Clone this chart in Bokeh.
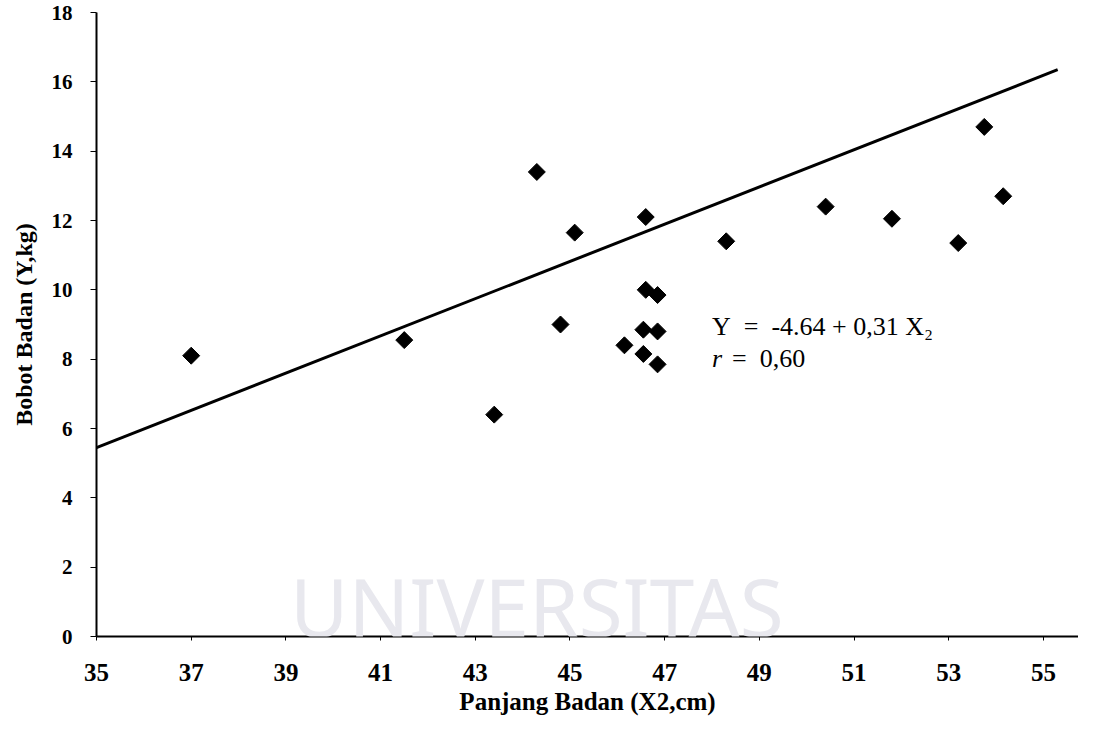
import numpy as np
from bokeh.plotting import figure
from bokeh.models import Range1d, FixedTicker, Label
from bokeh.embed import file_html
from bokeh.resources import INLINE

# ---- data ----
panjang = [37.0, 41.5, 43.4, 44.3, 44.8, 45.1, 46.15, 46.55, 46.55, 46.6,
           46.6, 46.85, 46.85, 46.85, 48.3, 50.4, 51.8, 53.2, 53.75, 54.15]
bobot = [8.1, 8.55, 6.4, 13.4, 9.0, 11.65, 8.4, 8.15, 8.85, 10.0,
         12.1, 9.85, 8.8, 7.85, 11.4, 12.4, 12.05, 11.35, 14.7, 12.7]

line_x = [35.0, 55.3]
line_y = [5.45, 16.35]

x_ticks = [35, 37, 39, 41, 43, 45, 47, 49, 51, 53, 55]
y_ticks = [0, 2, 4, 6, 8, 10, 12, 14, 16, 18]

NB = "\u00a0"
eq_text = "Y" + NB * 2 + "=" + NB * 2 + "-4.64 + 0,31 X\u2082"
r_sym = "r"
r_val = "=" + NB * 2 + "0,60"

SERIF = "Liberation Serif"

p = figure(width=1078, height=727,
           x_range=Range1d(35, 55.74), y_range=Range1d(0, 18),
           output_backend="svg", toolbar_location=None,
           min_border_left=96, min_border_right=0,
           min_border_top=12, min_border_bottom=91)

p.background_fill_color = "white"
p.border_fill_color = "white"
p.outline_line_color = None
p.xgrid.grid_line_color = None
p.ygrid.grid_line_color = None

# faint watermark of the scanned page
wm = Label(x=44.3, y=0.9, text="UNIVERSITAS", text_align="center",
           text_baseline="middle", text_font="Noto Sans",
           text_font_size="80px", text_color="#e8e8ee")
p.add_layout(wm)

# regression line and points
p.line(line_x, line_y, line_color="black", line_width=3)
p.scatter(panjang, bobot, marker="square", angle=np.pi / 4, size=12,
          fill_color="black", line_color="black")

# equation text
p.add_layout(Label(x=48.0, y=8.94, text=eq_text, text_font=SERIF,
                   text_font_size="26px", text_baseline="middle",
                   text_color="black"))
p.add_layout(Label(x=48.0, y=8.02, text=r_sym, text_font=SERIF,
                   text_font_size="26px", text_baseline="middle",
                   text_font_style="italic", text_color="black"))
p.add_layout(Label(x=48.0, y=8.02, x_offset=20, text=r_val, text_font=SERIF,
                   text_font_size="26px", text_baseline="middle",
                   text_color="black"))

# axes
xa = p.xaxis[0]
xa.ticker = FixedTicker(ticks=x_ticks)
xa.minor_tick_line_color = None
xa.major_tick_in = 0
xa.major_tick_out = 4
xa.axis_line_width = 2
xa.axis_line_color = "black"
xa.major_tick_line_color = "black"
xa.major_label_standoff = 23
xa.major_label_text_font = SERIF
xa.major_label_text_font_style = "bold"
xa.major_label_text_font_size = "25px"
xa.major_label_text_color = "black"
xa.axis_label = "Panjang Badan (X2,cm)"
xa.axis_label_text_font = SERIF
xa.axis_label_text_font_style = "bold"
xa.axis_label_text_font_size = "25px"
xa.axis_label_text_color = "black"
xa.axis_label_standoff = 4

ya = p.yaxis[0]
ya.ticker = FixedTicker(ticks=y_ticks)
ya.minor_tick_line_color = None
ya.major_tick_in = 0
ya.major_tick_out = 6
ya.axis_line_width = 2
ya.axis_line_color = "black"
ya.major_tick_line_color = "black"
ya.major_label_standoff = 18
ya.major_label_text_font = SERIF
ya.major_label_text_font_style = "bold"
ya.major_label_text_font_size = "21px"
ya.major_label_text_color = "black"
ya.axis_label = "Bobot Badan (Y,kg)"
ya.axis_label_text_font = SERIF
ya.axis_label_text_font_style = "bold"
ya.axis_label_text_font_size = "24px"
ya.axis_label_text_color = "black"
ya.axis_label_standoff = 12

open("out.html", "w").write(file_html(p, INLINE))
